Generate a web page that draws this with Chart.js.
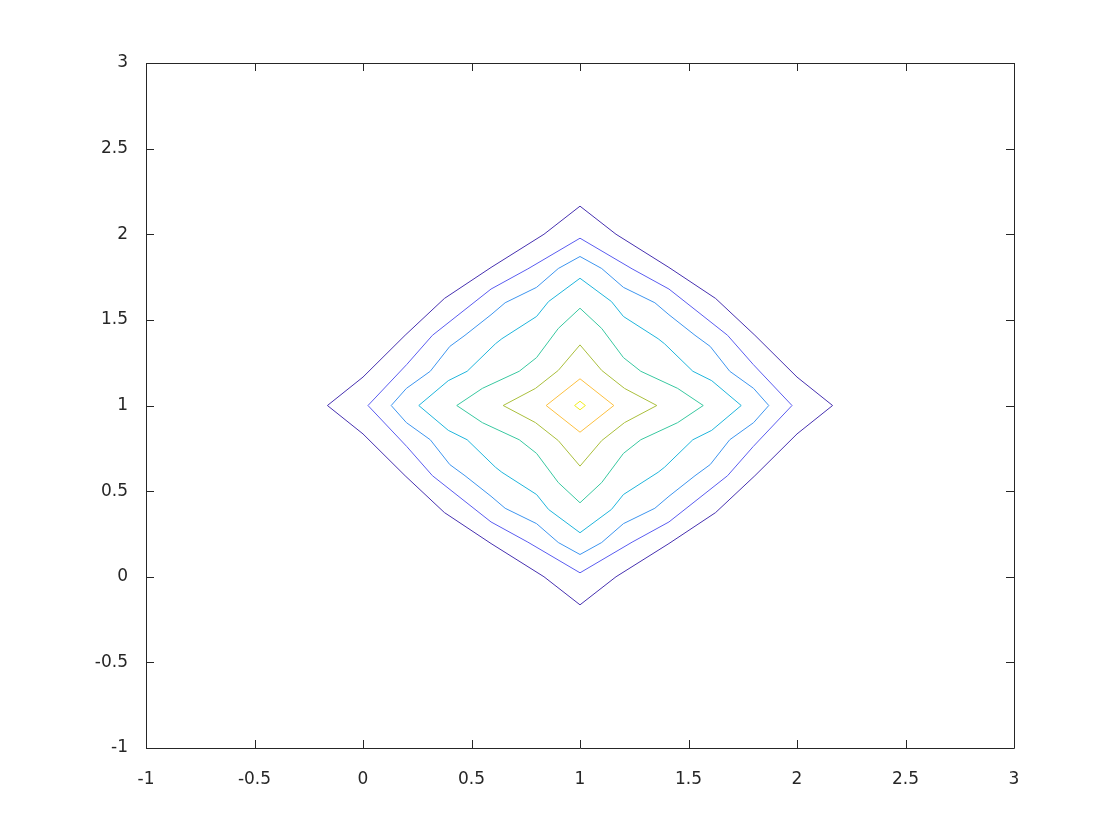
<!DOCTYPE html>
<html>
<head>
<meta charset="utf-8">
<title>Contour</title>
<script src="https://cdn.jsdelivr.net/npm/chart.js@4.4.1/dist/chart.umd.min.js"></script>
<style>
  html, body { margin: 0; padding: 0; background: #fff; }
  #wrap { width: 1120px; height: 840px; }
</style>
</head>
<body>
<div id="wrap"><canvas id="plot" width="1120" height="840"></canvas></div>
<script>
// axis ticks
const xTicks = [-1, -0.5, 0, 0.5, 1, 1.5, 2, 2.5, 3];
const yTicks = [-1, -0.5, 0, 0.5, 1, 1.5, 2, 2.5, 3];

// contour lines, outer to inner, as [x, y] vertices
const contour1 = [[-0.164,1],[0,1.166],[0.194,1.41],[0.375,1.625],[0.59,1.806],[0.834,2],[1,2.164],
  [1.166,2],[1.41,1.806],[1.625,1.625],[1.806,1.41],[2,1.166],[2.164,1],
  [2,0.834],[1.806,0.59],[1.625,0.375],[1.41,0.194],[1.166,0],[1,-0.164],
  [0.834,0],[0.59,0.194],[0.375,0.375],[0.194,0.59],[0,0.834],[-0.164,1]];
const contour2 = [[0.023,1],[0.202,1.24],[0.32,1.41],[0.59,1.68],[0.76,1.798],[1,1.977],
  [1.24,1.798],[1.41,1.68],[1.68,1.41],[1.798,1.24],[1.977,1],
  [1.798,0.76],[1.68,0.59],[1.41,0.32],[1.24,0.202],[1,0.023],
  [0.76,0.202],[0.59,0.32],[0.32,0.59],[0.202,0.76],[0.023,1]];
const contour3 = [[0.13,1],[0.2,1.1],[0.31,1.2],[0.4,1.345],[0.47,1.41],[0.59,1.53],[0.655,1.6],[0.8,1.69],[0.9,1.8],[1,1.87],
  [1.1,1.8],[1.2,1.69],[1.345,1.6],[1.41,1.53],[1.53,1.41],[1.6,1.345],[1.69,1.2],[1.8,1.1],[1.87,1],
  [1.8,0.9],[1.69,0.8],[1.6,0.655],[1.53,0.59],[1.41,0.47],[1.345,0.4],[1.2,0.31],[1.1,0.2],[1,0.13],
  [0.9,0.2],[0.8,0.31],[0.655,0.4],[0.59,0.47],[0.47,0.59],[0.4,0.655],[0.31,0.8],[0.2,0.9],[0.13,1]];
const contour4 = [[0.257,1],[0.393,1.145],[0.48,1.2],[0.61,1.36],[0.64,1.39],[0.8,1.52],[0.855,1.607],[1,1.743],
  [1.145,1.607],[1.2,1.52],[1.36,1.39],[1.39,1.36],[1.52,1.2],[1.607,1.145],[1.743,1],
  [1.607,0.855],[1.52,0.8],[1.39,0.64],[1.36,0.61],[1.2,0.48],[1.145,0.393],[1,0.257],
  [0.855,0.393],[0.8,0.48],[0.64,0.61],[0.61,0.64],[0.48,0.8],[0.393,0.855],[0.257,1]];
const contour5 = [[0.432,1],[0.55,1.1],[0.72,1.2],[0.8,1.28],[0.9,1.45],[1,1.568],
  [1.1,1.45],[1.2,1.28],[1.28,1.2],[1.45,1.1],[1.568,1],
  [1.45,0.9],[1.28,0.8],[1.2,0.72],[1.1,0.55],[1,0.432],
  [0.9,0.55],[0.8,0.72],[0.72,0.8],[0.55,0.9],[0.432,1]];
const contour6 = [[0.646,1],[0.795,1.1],[0.9,1.205],[1,1.354],
  [1.1,1.205],[1.205,1.1],[1.354,1],
  [1.205,0.9],[1.1,0.795],[1,0.646],
  [0.9,0.795],[0.795,0.9],[0.646,1]];
const contour7 = [[0.844,1],[1,1.156],[1.156,1],[1,0.844],[0.844,1]];
const contour8 = [[0.975,1],[1,1.025],[1.025,1],[1,0.975],[0.975,1]];

const contours = [contour1, contour2, contour3, contour4, contour5, contour6, contour7, contour8];
// parula-like level colours
const levelColors = ["#4630b0", "#5a5cf0", "#3d95ef", "#1fb5dc", "#38c8a0", "#aabf3c", "#fcc040", "#f2ec1c"];

const axisColor = "#262626";
const tickFont = { family: "'DejaVu Sans', sans-serif", size: 17 };

// box and inward ticks like MATLAB axes
const boxPlugin = {
  id: "boxPlugin",
  afterDraw(chart) {
    const { ctx, chartArea: a, scales } = chart;
    const len = 8;
    ctx.save();
    ctx.strokeStyle = axisColor;
    ctx.lineWidth = 1;
    ctx.beginPath();
    ctx.rect(a.left + 0.5, a.top + 0.5, a.right - a.left, a.bottom - a.top);
    xTicks.forEach(v => {
      const px = Math.round(scales.x.getPixelForValue(v)) + 0.5;
      ctx.moveTo(px, a.bottom); ctx.lineTo(px, a.bottom - len);
      ctx.moveTo(px, a.top); ctx.lineTo(px, a.top + len);
    });
    yTicks.forEach(v => {
      const py = Math.round(scales.y.getPixelForValue(v)) + 0.5;
      ctx.moveTo(a.left, py); ctx.lineTo(a.left + len, py);
      ctx.moveTo(a.right, py); ctx.lineTo(a.right - len, py);
    });
    ctx.stroke();
    ctx.restore();
  }
};

new Chart(document.getElementById("plot"), {
  type: "scatter",
  data: {
    datasets: contours.map((c, i) => ({
      data: c.map(p => ({ x: p[0], y: p[1] })),
      showLine: true,
      borderColor: levelColors[i],
      borderWidth: 1,
      pointRadius: 0,
      fill: false,
      tension: 0
    }))
  },
  options: {
    responsive: false,
    animation: false,
    layout: { padding: { top: 63, right: 106, left: 0, bottom: 0 } },
    plugins: { legend: { display: false }, tooltip: { enabled: false } },
    scales: {
      x: {
        type: "linear",
        min: -1,
        max: 3,
        afterFit: s => { s.height = 92; },
        afterBuildTicks: s => { s.ticks = xTicks.map(v => ({ value: v })); },
        grid: { display: false },
        border: { display: false },
        ticks: {
          color: axisColor, font: tickFont, padding: 13, maxRotation: 0, autoSkip: false,
          callback: v => String(v)
        }
      },
      y: {
        type: "linear",
        min: -1,
        max: 3,
        afterFit: s => { s.width = 146; },
        afterBuildTicks: s => { s.ticks = yTicks.map(v => ({ value: v })); },
        grid: { display: false },
        border: { display: false },
        ticks: {
          color: axisColor, font: tickFont, padding: 10, autoSkip: false,
          callback: v => String(v)
        }
      }
    }
  },
  plugins: [boxPlugin]
});
</script>
</body>
</html>
